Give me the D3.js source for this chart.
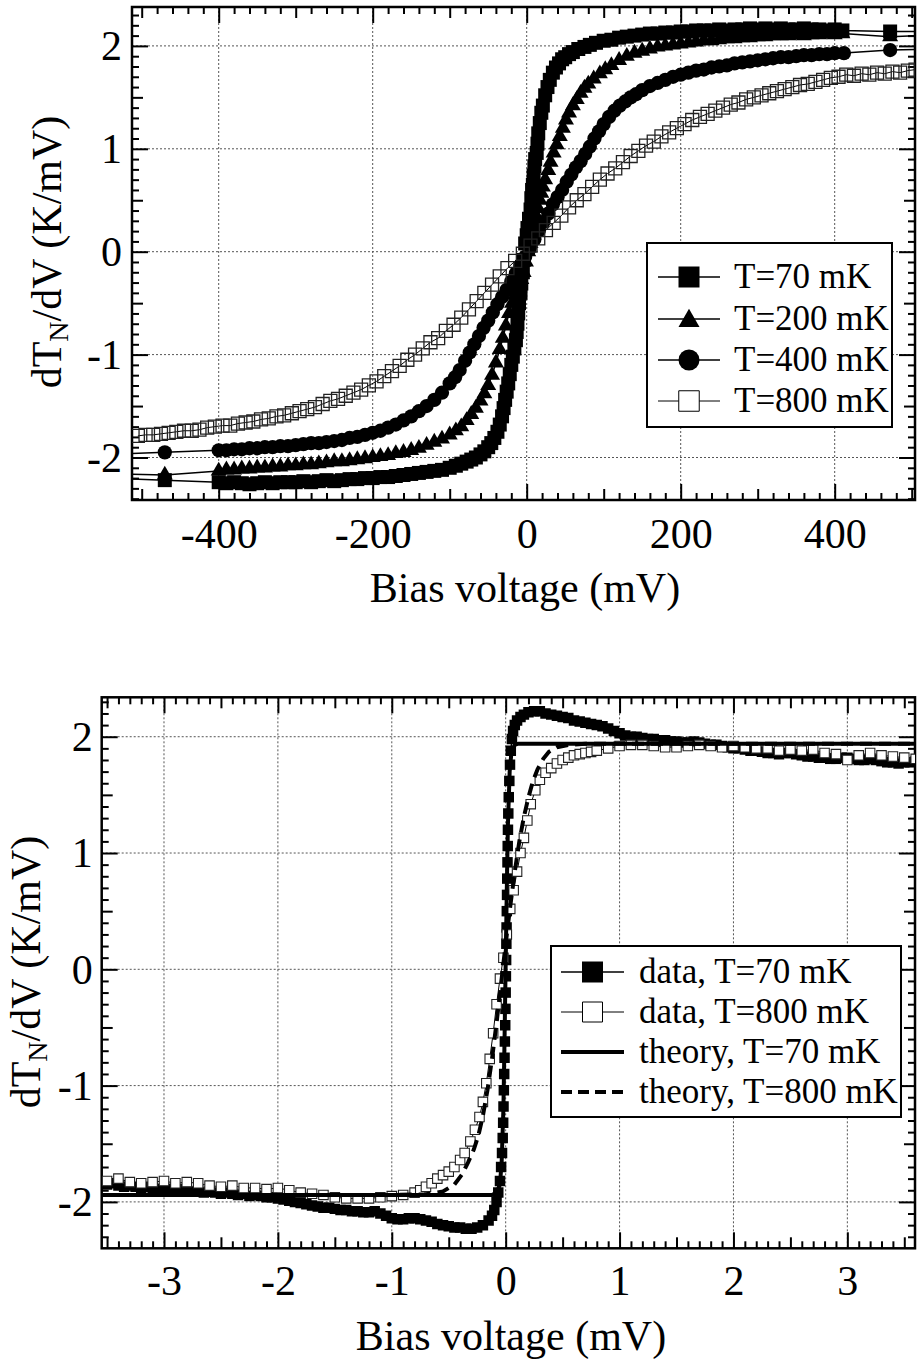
<!DOCTYPE html>
<html>
<head>
<meta charset="utf-8">
<script src="https://cdn.jsdelivr.net/npm/d3@7/dist/d3.min.js"></script>
<style>
html,body{margin:0;padding:0;background:#fff;}
svg{display:block;}
svg text{font-family:"Liberation Serif","Times New Roman",Times,serif;}
</style>
</head>
<body>
<svg id="chart" width="917" height="1360"></svg>
<script>
// ---------------- DATA ----------------
// Top panel: dT_N/dV vs bias voltage (mV), four temperatures  [bias, value]
const top70 = [[-540,-2.20],[-470,-2.22],
[-400,-2.24],[-390,-2.25],[-380,-2.24],[-370,-2.25],[-360,-2.26],[-350,-2.25],[-340,-2.24],[-330,-2.25],[-320,-2.24],[-310,-2.24],[-300,-2.24],[-290,-2.23],[-280,-2.24],[-270,-2.23],[-260,-2.22],[-250,-2.23],[-240,-2.22],[-230,-2.21],[-220,-2.21],[-210,-2.20],[-200,-2.20],[-190,-2.19],[-180,-2.19],[-170,-2.18],[-160,-2.17],[-150,-2.16],[-140,-2.15],[-130,-2.14],[-120,-2.13],[-110,-2.12],[-100,-2.10],[-92,-2.08],[-85,-2.06],[-78,-2.04],[-72,-2.02],[-66,-2.00],[-60,-1.97],[-55,-1.94],[-50,-1.90],[-46,-1.86],[-42,-1.81],[-38,-1.75],[-35,-1.68],[-32,-1.60],[-30,-1.52],[-28,-1.44],[-26,-1.36],[-24,-1.28],[-22,-1.19],[-20,-1.10],[-18,-1.02],[-16,-0.94],[-14,-0.86],[-13,-0.78],[-12,-0.70],[-11,-0.60],[-10,-0.50],[-8,-0.40],[-7,-0.31],[-5,-0.20],[-4,-0.08],[-2,0.08],[0,0.16],[1,0.23],[3,0.32],[5,0.41],[6,0.52],[7,0.60],[8,0.65],[9,0.74],[10,0.83],[11,0.90],[13,0.96],[14,1.05],[15,1.15],[17,1.25],[19,1.35],[21,1.42],[24,1.52],[27,1.60],[30,1.67],[34,1.74],[38,1.79],[42,1.83],[46,1.87],[50,1.89],[55,1.92],[60,1.94],[67,1.97],[75,1.99],[82,2.01],[90,2.03],[100,2.05],[110,2.06],[120,2.08],[130,2.09],[140,2.10],[150,2.11],[160,2.12],[170,2.12],[180,2.13],[190,2.13],[200,2.14],[210,2.14],[220,2.15],[230,2.15],[240,2.15],[250,2.16],[260,2.15],[270,2.16],[280,2.16],[290,2.17],[300,2.16],[310,2.17],[320,2.16],[330,2.17],[340,2.16],[350,2.16],[360,2.17],[370,2.16],[380,2.16],[390,2.15],[400,2.16],[410,2.15],[472,2.14],[540,2.14]];

const top200 = [[-540,-2.16],[-470,-2.17],
[-400,-2.13],[-390,-2.12],[-380,-2.12],[-370,-2.11],[-360,-2.11],[-350,-2.10],[-340,-2.10],[-330,-2.09],[-320,-2.09],[-310,-2.08],[-300,-2.08],[-290,-2.07],[-280,-2.07],[-270,-2.06],[-260,-2.05],[-250,-2.04],[-240,-2.04],[-230,-2.03],[-220,-2.02],[-210,-2.01],[-200,-2.00],[-190,-1.99],[-180,-1.98],[-170,-1.96],[-160,-1.95],[-150,-1.93],[-140,-1.91],[-130,-1.88],[-120,-1.85],[-110,-1.82],[-100,-1.78],[-92,-1.74],[-85,-1.70],[-78,-1.64],[-72,-1.58],[-66,-1.52],[-60,-1.45],[-55,-1.38],[-50,-1.30],[-45,-1.20],[-40,-1.08],[-35,-0.95],[-31,-0.84],[-27,-0.72],[-23,-0.60],[-19,-0.50],[-15,-0.42],[-11,-0.34],[-7,-0.27],[-4,-0.20],[-1,-0.10],[2,0.00],[5,0.08],[8,0.16],[11,0.26],[13,0.34],[15,0.42],[17,0.50],[19,0.57],[21,0.63],[24,0.70],[28,0.79],[31,0.87],[35,0.96],[39,1.04],[43,1.12],[47,1.20],[51,1.28],[55,1.35],[60,1.42],[65,1.48],[70,1.54],[75,1.59],[80,1.63],[87,1.68],[95,1.73],[102,1.77],[110,1.81],[120,1.86],[130,1.90],[140,1.93],[150,1.95],[160,1.97],[170,1.99],[180,2.00],[190,2.01],[200,2.02],[210,2.03],[220,2.04],[230,2.05],[240,2.05],[250,2.06],[260,2.07],[270,2.07],[280,2.08],[290,2.08],[300,2.09],[310,2.09],[320,2.10],[330,2.10],[340,2.10],[350,2.11],[360,2.10],[370,2.11],[380,2.11],[390,2.12],[400,2.11],[410,2.12],[472,2.09],[540,2.11]];

const top400 = [[-540,-1.97],[-470,-1.95],
[-400,-1.93],[-390,-1.93],[-380,-1.92],[-370,-1.92],[-360,-1.91],[-350,-1.91],[-340,-1.90],[-330,-1.90],[-320,-1.89],[-310,-1.89],[-300,-1.88],[-290,-1.87],[-280,-1.86],[-270,-1.86],[-260,-1.85],[-250,-1.84],[-240,-1.83],[-230,-1.81],[-220,-1.80],[-210,-1.78],[-200,-1.76],[-190,-1.74],[-180,-1.71],[-170,-1.68],[-160,-1.64],[-150,-1.60],[-140,-1.55],[-130,-1.50],[-120,-1.44],[-110,-1.37],[-100,-1.28],[-93,-1.22],[-87,-1.15],[-80,-1.06],[-74,-0.98],[-68,-0.90],[-62,-0.82],[-56,-0.74],[-50,-0.67],[-44,-0.59],[-38,-0.51],[-32,-0.44],[-26,-0.37],[-20,-0.29],[-14,-0.21],[-8,-0.13],[-2,-0.05],[4,0.03],[10,0.12],[16,0.21],[22,0.29],[28,0.37],[34,0.46],[40,0.53],[46,0.60],[52,0.68],[58,0.75],[64,0.82],[70,0.88],[76,0.95],[82,1.02],[88,1.10],[94,1.17],[100,1.24],[107,1.31],[114,1.37],[121,1.42],[128,1.46],[135,1.50],[142,1.53],[150,1.57],[160,1.61],[170,1.64],[180,1.67],[190,1.70],[200,1.72],[210,1.74],[220,1.76],[230,1.77],[240,1.79],[250,1.80],[260,1.81],[270,1.83],[280,1.84],[290,1.85],[300,1.86],[310,1.87],[320,1.88],[330,1.89],[340,1.89],[350,1.90],[360,1.91],[370,1.91],[380,1.92],[390,1.92],[400,1.93],[412,1.93],[472,1.96],[540,1.97]];

const top800 = [[-505,-1.79],[-495,-1.78],[-485,-1.78],[-475,-1.77],[-465,-1.76],[-455,-1.75],[-445,-1.74],[-435,-1.74],[-425,-1.73],[-415,-1.71],[-405,-1.70],[-395,-1.69],[-385,-1.69],[-375,-1.67],[-365,-1.66],[-355,-1.65],[-345,-1.63],[-335,-1.62],[-325,-1.60],[-315,-1.59],[-305,-1.57],[-295,-1.55],[-285,-1.53],[-275,-1.51],[-265,-1.48],[-255,-1.45],[-245,-1.43],[-235,-1.40],[-225,-1.37],[-215,-1.34],[-205,-1.30],[-195,-1.26],[-185,-1.21],[-175,-1.16],[-165,-1.11],[-155,-1.05],[-145,-1.00],[-135,-0.94],[-125,-0.88],[-115,-0.84],[-105,-0.77],[-95,-0.71],[-85,-0.64],[-75,-0.56],[-65,-0.48],[-55,-0.40],[-45,-0.32],[-35,-0.24],[-25,-0.16],[-15,-0.09],[-5,-0.02],[5,0.06],[15,0.13],[25,0.21],[35,0.28],[45,0.35],[55,0.43],[65,0.50],[75,0.56],[85,0.63],[95,0.70],[105,0.76],[115,0.81],[125,0.87],[135,0.93],[145,0.98],[155,1.03],[165,1.07],[175,1.12],[185,1.16],[195,1.20],[205,1.24],[215,1.28],[225,1.31],[235,1.34],[245,1.37],[255,1.40],[265,1.43],[275,1.45],[285,1.48],[295,1.50],[305,1.52],[315,1.54],[325,1.56],[335,1.58],[345,1.60],[355,1.62],[365,1.63],[375,1.65],[385,1.67],[395,1.69],[405,1.70],[415,1.72],[425,1.71],[435,1.73],[445,1.72],[455,1.74],[465,1.73],[475,1.75],[485,1.74],[495,1.76],[505,1.77]];

// Bottom panel [bias (mV), value]
const bot70 = [[-3.60,-1.83],[-3.55,-1.84],[-3.50,-1.85],[-3.45,-1.84],[-3.40,-1.86],[-3.35,-1.87],[-3.30,-1.86],[-3.25,-1.87],[-3.20,-1.88],[-3.15,-1.87],[-3.10,-1.88],[-3.05,-1.89],[-3.00,-1.88],[-2.95,-1.89],[-2.90,-1.90],[-2.85,-1.89],[-2.80,-1.90],[-2.75,-1.91],[-2.70,-1.90],[-2.65,-1.92],[-2.60,-1.91],[-2.55,-1.92],[-2.50,-1.93],[-2.45,-1.92],[-2.40,-1.93],[-2.35,-1.94],[-2.30,-1.93],[-2.25,-1.95],[-2.20,-1.94],[-2.15,-1.95],[-2.10,-1.96],[-2.05,-1.96],[-2.00,-1.97],[-1.95,-1.98],[-1.90,-1.99],[-1.85,-2.00],[-1.80,-2.01],[-1.75,-2.02],[-1.70,-2.03],[-1.65,-2.04],[-1.60,-2.05],[-1.55,-2.05],[-1.50,-2.06],[-1.45,-2.07],[-1.40,-2.07],[-1.35,-2.08],[-1.30,-2.08],[-1.25,-2.09],[-1.20,-2.09],[-1.15,-2.08],[-1.10,-2.10],[-1.05,-2.12],[-1.00,-2.14],[-0.95,-2.15],[-0.90,-2.15],[-0.85,-2.14],[-0.80,-2.14],[-0.75,-2.15],[-0.70,-2.16],[-0.65,-2.17],[-0.60,-2.19],[-0.55,-2.20],[-0.50,-2.21],[-0.45,-2.22],[-0.40,-2.22],[-0.35,-2.23],[-0.30,-2.23],[-0.25,-2.22],[-0.20,-2.20],[-0.15,-2.16],[-0.12,-2.12],[-0.10,-2.07],[-0.08,-2.00],[-0.065,-1.92],[-0.05,-1.82],[-0.04,-1.70],[-0.032,-1.58],[-0.026,-1.45],[-0.022,-1.32],[-0.019,-1.18],[-0.016,-1.04],[-0.013,-0.90],[-0.010,-0.76],[-0.007,-0.62],[-0.004,-0.48],[-0.002,-0.34],[0,-0.20],[0.002,-0.06],[0.004,0.08],[0.006,0.22],[0.008,0.36],[0.010,0.50],[0.012,0.64],[0.014,0.78],[0.016,0.92],[0.018,1.06],[0.020,1.20],[0.023,1.34],[0.027,1.48],[0.032,1.62],[0.038,1.76],[0.045,1.88],[0.055,1.98],[0.065,2.05],[0.08,2.10],[0.10,2.14],[0.13,2.17],[0.16,2.19],[0.20,2.21],[0.25,2.22],[0.30,2.22],[0.35,2.20],[0.40,2.19],[0.45,2.18],[0.50,2.17],[0.55,2.16],[0.60,2.14],[0.65,2.13],[0.70,2.12],[0.75,2.11],[0.80,2.10],[0.85,2.09],[0.90,2.07],[0.95,2.05],[1.00,2.03],[1.05,2.01],[1.10,2.00],[1.15,2.00],[1.20,1.99],[1.25,1.98],[1.30,1.98],[1.35,1.97],[1.40,1.97],[1.45,1.96],[1.50,1.96],[1.55,1.95],[1.60,1.95],[1.65,1.96],[1.70,1.95],[1.75,1.94],[1.80,1.93],[1.85,1.93],[1.90,1.92],[1.95,1.91],[2.00,1.90],[2.05,1.90],[2.10,1.89],[2.15,1.88],[2.20,1.88],[2.25,1.87],[2.30,1.86],[2.35,1.86],[2.40,1.85],[2.45,1.86],[2.50,1.86],[2.55,1.85],[2.60,1.84],[2.65,1.83],[2.70,1.83],[2.75,1.82],[2.80,1.82],[2.85,1.81],[2.90,1.81],[2.95,1.82],[3.00,1.82],[3.05,1.81],[3.10,1.80],[3.15,1.80],[3.20,1.81],[3.25,1.80],[3.30,1.79],[3.35,1.78],[3.40,1.78],[3.45,1.77],[3.50,1.78],[3.55,1.78],[3.60,1.79]];

const bot800 = [[-3.5,-1.82],[-3.4,-1.80],[-3.3,-1.83],[-3.2,-1.84],[-3.1,-1.83],[-3.0,-1.82],[-2.9,-1.84],[-2.8,-1.83],[-2.7,-1.84],[-2.6,-1.86],[-2.5,-1.87],[-2.4,-1.86],[-2.3,-1.88],[-2.2,-1.88],[-2.1,-1.89],[-2.0,-1.88],[-1.9,-1.90],[-1.8,-1.92],[-1.7,-1.93],[-1.6,-1.94],[-1.5,-1.96],[-1.4,-1.97],[-1.3,-1.97],[-1.2,-1.97],[-1.1,-1.96],[-1.0,-1.95],[-0.9,-1.94],[-0.8,-1.92],[-0.75,-1.90],[-0.7,-1.87],[-0.65,-1.84],[-0.6,-1.80],[-0.55,-1.77],[-0.5,-1.74],[-0.45,-1.70],[-0.4,-1.64],[-0.36,-1.58],[-0.31,-1.48],[-0.27,-1.38],[-0.23,-1.27],[-0.2,-1.14],[-0.17,-0.98],[-0.14,-0.77],[-0.11,-0.55],[-0.08,-0.30],[-0.05,-0.08],[-0.02,0.10],[0.01,0.30],[0.04,0.52],[0.07,0.68],[0.1,0.84],[0.13,1.00],[0.16,1.13],[0.19,1.28],[0.22,1.42],[0.26,1.54],[0.3,1.63],[0.35,1.69],[0.4,1.73],[0.45,1.77],[0.5,1.80],[0.55,1.82],[0.6,1.84],[0.65,1.85],[0.7,1.86],[0.75,1.87],[0.8,1.88],[0.9,1.90],[1.0,1.92],[1.1,1.93],[1.2,1.93],[1.3,1.92],[1.4,1.91],[1.5,1.91],[1.6,1.92],[1.7,1.93],[1.8,1.92],[1.9,1.91],[2.0,1.92],[2.1,1.91],[2.2,1.90],[2.3,1.90],[2.4,1.88],[2.5,1.89],[2.6,1.88],[2.7,1.89],[2.8,1.86],[2.9,1.85],[3.0,1.80],[3.1,1.84],[3.2,1.86],[3.3,1.84],[3.4,1.83],[3.5,1.82],[3.6,1.81]];

const theory70 = [[-3.6,-1.94],[-0.12,-1.94],[-0.08,-1.92],[-0.05,-1.85],[-0.035,-1.65],[-0.02,-1.20],[-0.01,-0.60],[0,0.05],[0.01,0.70],[0.02,1.25],[0.035,1.70],[0.05,1.86],[0.08,1.93],[0.11,1.94],[3.6,1.94]];

const theory800 = [[-3.6,-1.94],[-1.0,-1.94],[-0.7,-1.935],[-0.55,-1.91],[-0.45,-1.85],[-0.38,-1.76],[-0.33,-1.66],[-0.28,-1.55],[-0.24,-1.43],[-0.2,-1.26],[-0.16,-1.04],[-0.12,-0.77],[-0.08,-0.46],[-0.04,-0.12],[0,0.22],[0.04,0.54],[0.08,0.84],[0.12,1.10],[0.16,1.31],[0.2,1.48],[0.24,1.62],[0.28,1.72],[0.33,1.81],[0.38,1.87],[0.45,1.91],[0.55,1.93],[0.7,1.94],[3.6,1.94]];

// Tick labels
const topXTicks = [-400, -200, 0, 200, 400];
const topYTicks = [-2, -1, 0, 1, 2];
const botXTicks = [-3, -2, -1, 0, 1, 2, 3];
const botYTicks = [-2, -1, 0, 1, 2];

// Legend labels
const topLegendLabels = ["T=70 mK", "T=200 mK", "T=400 mK", "T=800 mK"];
const botLegendLabels = ["data, T=70 mK", "data, T=800 mK", "theory, T=70 mK", "theory, T=800 mK"];

// ---------------- DRAWING ----------------
const FONT = '"Liberation Serif","Times New Roman",Times,serif';
const svg = d3.select("#chart");
const defs = svg.append("defs");

function makePanel(cfg) {
  const x = d3.scaleLinear().domain(cfg.xDomain).range([cfg.left, cfg.right]);
  const y = d3.scaleLinear().domain(cfg.yDomain).range([cfg.bottom, cfg.top]);
  const g = svg.append("g");
  const W = cfg.right - cfg.left, H = cfg.bottom - cfg.top;

  defs.append("clipPath").attr("id", "clip-" + cfg.name)
    .append("rect").attr("x", cfg.left).attr("y", cfg.top).attr("width", W).attr("height", H);

  // grid
  const grid = g.append("g").attr("stroke", "#555").attr("stroke-width", 1).attr("stroke-dasharray", "2,2").attr("fill", "none");
  grid.selectAll("line.gx").data(cfg.xTicks).join("line").attr("class", "gx")
    .attr("x1", d => x(d)).attr("x2", d => x(d)).attr("y1", cfg.top).attr("y2", cfg.bottom);
  grid.selectAll("line.gy").data(cfg.yTicks).join("line").attr("class", "gy")
    .attr("y1", d => y(d)).attr("y2", d => y(d)).attr("x1", cfg.left).attr("x2", cfg.right);

  // tick values: minor step, mid = 5 steps, major = 10 steps
  function tickSets(domain, step) {
    const k0 = Math.ceil(domain[0] / step - 1e-9), k1 = Math.floor(domain[1] / step + 1e-9);
    const major = [], mid = [], minor = [];
    for (let k = k0; k <= k1; k++) {
      const v = Math.round(k * step * 1000) / 1000;
      if (k % 10 === 0) major.push(v); else if (k % 5 === 0) mid.push(v); else minor.push(v);
    }
    return {major, mid, minor};
  }
  const xs = tickSets(cfg.xDomain, cfg.xStep), ys = tickSets(cfg.yDomain, cfg.yStep);
  const lens = {major: 16, mid: 11, minor: 7};

  const sides = [
    {fn: d3.axisBottom, sc: x, tr: `translate(0,${cfg.bottom})`, sets: xs, labels: true},
    {fn: d3.axisTop, sc: x, tr: `translate(0,${cfg.top})`, sets: xs, labels: false},
    {fn: d3.axisLeft, sc: y, tr: `translate(${cfg.left},0)`, sets: ys, labels: true},
    {fn: d3.axisRight, sc: y, tr: `translate(${cfg.right},0)`, sets: ys, labels: false}
  ];
  sides.forEach((s, si) => {
    ["major", "mid", "minor"].forEach(kind => {
      const lab = s.labels && kind === "major";
      const ax = s.fn(s.sc).tickValues(s.sets[kind]).tickSize(-lens[kind]).tickSizeOuter(0)
        .tickFormat(lab ? (d => String(d)) : (() => ""));
      const ag = g.append("g").attr("transform", s.tr).call(ax);
      ag.select(".domain").remove();
      ag.selectAll(".tick line").attr("stroke", "#000").attr("stroke-width", 2);
      ag.attr("font-family", FONT).attr("font-size", 42);
      if (lab) {
        const t = ag.selectAll(".tick text").style("font-family", FONT).attr("fill", "#000");
        if (si === 0) t.attr("y", cfg.xLabelOffset).attr("dy", 0);
        else t.attr("x", -cfg.yLabelPad).attr("dy", "0.33em");
      }
    });
  });

  // frame
  g.append("rect").attr("x", cfg.left).attr("y", cfg.top).attr("width", W).attr("height", H)
    .attr("fill", "none").attr("stroke", "#000").attr("stroke-width", 2.5);

  // axis titles
  g.append("text").attr("x", cfg.xTitleX).attr("y", cfg.xTitleY).attr("text-anchor", "middle")
    .attr("font-size", 42).text("Bias voltage (mV)");
  const yt = g.append("text").attr("transform", `translate(${cfg.yTitleX},${cfg.yTitleY}) rotate(-90)`)
    .attr("text-anchor", "middle").attr("font-size", 42);
  yt.append("tspan").text("dT");
  yt.append("tspan").attr("font-size", 28).attr("dy", 7).text("N");
  yt.append("tspan").attr("dy", -7).text("/dV (K/mV)");

  const plot = svg.append("g").attr("clip-path", `url(#clip-${cfg.name})`);
  return {x, y, plot, g};
}

function drawSeries(P, data, o) {
  const line = d3.line().x(d => P.x(d[0])).y(d => P.y(d[1]));
  if (o.lineWidth) {
    P.plot.append("path").datum(data).attr("d", line).attr("fill", "none")
      .attr("stroke", "#000").attr("stroke-width", o.lineWidth)
      .attr("stroke-dasharray", o.dash || null);
  }
  if (o.symbol) {
    const sym = d3.symbol().type(o.symbol).size(o.size);
    P.plot.append("g").selectAll("path").data(data).join("path")
      .attr("transform", d => `translate(${P.x(d[0])},${P.y(d[1])})`)
      .attr("d", sym).attr("fill", o.fill).attr("stroke", o.stroke || "none")
      .attr("stroke-width", o.strokeWidth || 0);
  }
}

function drawLegend(box, rows, labels, lineX0, lineX1, textX) {
  const lg = svg.append("g");
  lg.append("rect").attr("x", box.x).attr("y", box.y).attr("width", box.w).attr("height", box.h)
    .attr("fill", "#fff").attr("stroke", "#000").attr("stroke-width", 2);
  rows.forEach((r, i) => {
    const cy = box.rowY[i];
    lg.append("line").attr("x1", lineX0).attr("x2", lineX1).attr("y1", cy).attr("y2", cy)
      .attr("stroke", "#000").attr("stroke-width", r.lw).attr("stroke-dasharray", r.dash || null);
    if (r.symbol) {
      lg.append("path").attr("transform", `translate(${(lineX0 + lineX1) / 2},${cy + (r.dyMark || 0)})`)
        .attr("d", d3.symbol().type(r.symbol).size(r.size)())
        .attr("fill", r.fill).attr("stroke", r.stroke || "none").attr("stroke-width", r.strokeWidth || 0);
    }
    lg.append("text").attr("x", textX).attr("y", cy + 11)
      .attr("font-size", 35).text(labels[i]);
  });
}

// ---- Top panel ----
const P1 = makePanel({
  name: "top", left: 132, right: 915, top: 7, bottom: 500,
  xDomain: [-512.6, 504.3], yDomain: [-2.413, 2.378], xStep: 20, yStep: 0.1,
  xTicks: topXTicks, yTicks: topYTicks, xLabelOffset: 48, yLabelPad: 10,
  xTitleX: 525, xTitleY: 602, yTitleX: 61, yTitleY: 252
});
drawSeries(P1, top70, {lineWidth: 1.5, symbol: d3.symbolSquare, size: 196, fill: "#000"});
drawSeries(P1, top200, {lineWidth: 1.5, symbol: d3.symbolTriangle, size: 111, fill: "#000"});
drawSeries(P1, top400, {lineWidth: 1.5, symbol: d3.symbolCircle, size: 160, fill: "#000"});
drawSeries(P1, top800, {lineWidth: 1, symbol: d3.symbolSquare, size: 169, fill: "none", stroke: "#222", strokeWidth: 1.3});

drawLegend({x: 647, y: 243, w: 245, h: 184, rowY: [277, 319, 360, 401]}, [
  {lw: 1.5, symbol: d3.symbolSquare, size: 441, fill: "#000"},
  {lw: 1.5, symbol: d3.symbolTriangle, size: 191, fill: "#000", dyMark: 2},
  {lw: 1.5, symbol: d3.symbolCircle, size: 346, fill: "#000"},
  {lw: 1, symbol: d3.symbolSquare, size: 420, fill: "#fff", stroke: "#000", strokeWidth: 1}
], topLegendLabels, 658, 720, 734);

// ---- Bottom panel ----
const P2 = makePanel({
  name: "bot", left: 101.7, right: 915, top: 697.3, bottom: 1248.3,
  xDomain: [-3.547, 3.594], yDomain: [-2.399, 2.339], xStep: 0.1, yStep: 0.1,
  xTicks: botXTicks, yTicks: botYTicks, xLabelOffset: 46.7, yLabelPad: 9,
  xTitleX: 511, xTitleY: 1350, yTitleX: 40, yTitleY: 972
});
drawSeries(P2, bot70, {lineWidth: 1.5, symbol: d3.symbolSquare, size: 110, fill: "#000"});
drawSeries(P2, bot800, {lineWidth: 1, symbol: d3.symbolSquare, size: 90, fill: "#fff", stroke: "#222", strokeWidth: 1.1});
drawSeries(P2, theory800, {lineWidth: 4, dash: "12,7"});
drawSeries(P2, theory70, {lineWidth: 4});

drawLegend({x: 551, y: 946, w: 350, h: 171, rowY: [972, 1012, 1052, 1092]}, [
  {lw: 1.5, symbol: d3.symbolSquare, size: 441, fill: "#000"},
  {lw: 1, symbol: d3.symbolSquare, size: 400, fill: "#fff", stroke: "#000", strokeWidth: 1},
  {lw: 4},
  {lw: 4, dash: "11,6"}
], botLegendLabels, 561, 624, 639);
</script>
</body>
</html>
